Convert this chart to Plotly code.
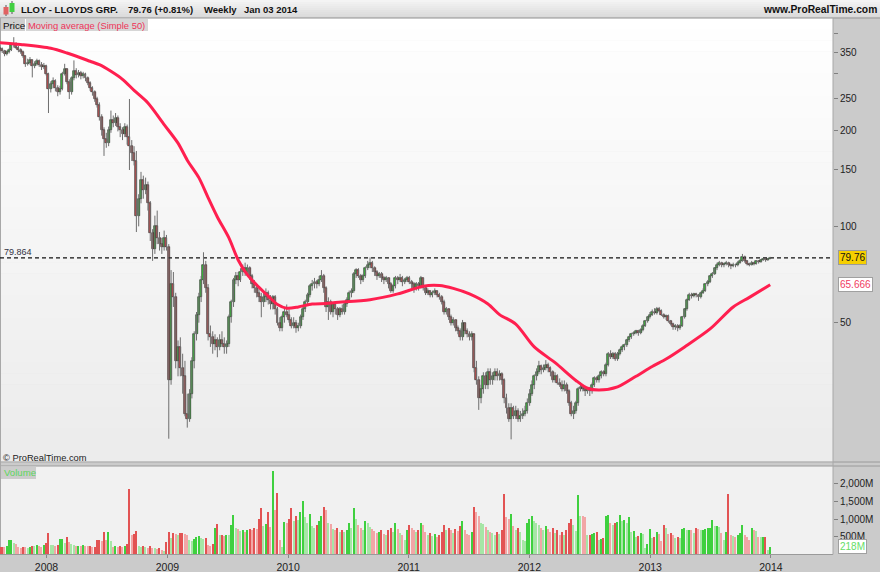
import numpy as np
import pandas as pd
import plotly.graph_objects as go

# ---------------- data (weekly bars, weeks beginning Monday) ----------------
first_week = "2007-08-13"
# [open, high, low, close] in pence
ohlc_2007 = [
    [362,368,352,358],[358,362,348,352],[352,356,340,345],[345,354,342,350],[350,360,347,356],
    [356,372,353,368],[368,390,362,372],[372,376,358,362],[362,366,350,355],[355,360,346,350],
    [350,354,336,340],[340,342,315,322],[322,334,318,325],[325,338,320,330],[330,332,292,318],
    [318,328,312,322],[322,334,318,328],[328,332,315,320],[320,326,308,315],[315,324,310,318]]
ohlc_2008 = [
    [318,320,296,300],[300,302,226,268],[268,284,262,278],[278,292,270,285],[285,288,264,270],
    [270,276,255,262],[262,275,258,268],[268,304,266,300],[300,322,296,310],[310,312,278,282],
    [282,288,250,262],[262,294,258,290],[290,330,286,305],[305,312,290,298],[298,308,292,302],
    [302,306,288,296],[296,304,290,300],[300,302,284,290],[290,294,276,280],[280,284,265,270],
    [270,274,256,262],[262,266,245,250],[250,254,235,240],[240,244,214,220],[220,224,192,200],
    [200,204,166,188],[188,196,176,182],[182,205,178,200],[200,230,196,215],[215,222,204,210],
    [210,226,206,218],[218,222,198,205],[205,210,190,200],[200,204,186,195],[195,210,190,205],
    [205,208,180,190],[190,250,150,178],[178,186,160,170],[170,178,155,160],[160,172,96,108],
    [108,126,100,122],[122,148,118,140],[140,144,122,130],[130,142,126,135],[135,138,112,118],
    [118,120,90,95],[95,98,78,85],[85,108,82,100],[100,112,88,92],[92,96,84,88],
    [88,92,82,86],[86,97,84,92]]
ohlc_2009 = [
    [92,94,84,86],[86,88,21.7,33],[33,73,32,66],[66,72,56,60],[60,62,36,38],
    [38,44,34,42],[42,45,34,36],[36,40,30,34],[34,38,25.5,26],[26,30,23.5,25],
    [25,31,24.5,30],[30,39,29,38],[38,47,36,46],[46,54,44,53],[53,62,50,60],
    [60,70,58,68],[68,83,66,76],[76,78,62,64],[64,66,44,46],[46,49,42,45],
    [45,47,40,43],[43,46,41,44],[44,45,39,42],[42,46,41,44],[44,47,42,43],
    [43,45,40,42],[42,44,40,43],[43,53,42,52],[52,59,50,58],[58,69,56,68],
    [68,72,66,70],[70,72,65,68],[68,74,67,72],[72,76,70,74],[74,77,70,72],
    [72,76,70,74],[74,75,68,70],[70,71,64,66],[66,68,62,64],[64,66,60,62],
    [62,64,58,60],[60,62,52,58],[58,62,56,60],[60,64,58,62],[62,63,57,59],
    [59,61,55,57],[57,61,55,60],[60,61,53,55],[55,56,49,50],[50,52,47,48],
    [48,53,47,52],[52,56,50,54]]
ohlc_2010 = [
    [54,57,52,53],[53,55,50,51],[51,52,48,49],[49,52,48,50],[50,51,46.5,48],
    [48,50,47,49],[49,53,48,52],[52,56,51,55],[55,59,54,58],[58,62,57,61],
    [61,66,60,65],[65,68,63,66],[66,69,64,67],[67,68,64,66],[66,70,65,68],
    [68,73,67,70],[70,71,62,64],[64,65,54,56],[56,60,51,58],[58,59,53,54],
    [54,58,52,57],[57,58,53,55],[55,56,51,53],[53,56,52,55],[55,57,53,54],
    [54,58,53,57],[57,60,56,59],[59,63,58,62],[62,64,60,63],[63,72,62,71],
    [71,74,69,73],[73,74,69,70],[70,71,66,68],[68,71,67,70],[70,75,69,74],
    [74,78,73,76],[76,80,74,77],[77,78,72,74],[74,75,70,72],[72,73,68,70],
    [70,72,69,71],[71,72,67,69],[69,70,66,68],[68,70,67,69],[69,69,64,66],
    [66,67,62,63],[63,66,62,65],[65,70,64,69],[69,70,66,68],[68,71,67,69],
    [69,70,65,67],[67,69,66,68]]
ohlc_2011 = [
    [68,70,67,69],[69,70,66,67],[67,68,64,66],[66,67,62,64],[64,67,63,66],
    [66,67,63,65],[65,70,64,69],[69,69,63,64],[64,65,61,62],[62,64,61,63],
    [63,63,60,61],[61,63,60,62],[62,64,61,63],[63,63,60,61],[61,62,59,60],
    [60,61,57,58],[58,59,53,54],[54,56,53,55],[55,55,51,52],[52,53,49,50],
    [50,52,49,51],[51,51,47,48],[48,49,46,47],[47,48,44,45],[45,51,44,50],
    [50,50,46,47],[47,48,45,46],[46,47,44,45],[45,47,44,46],[46,46,35,36],
    [36,38,32,33],[33,34,26.7,29],[29,32,28,31],[31,35,30,34],[34,35,31,32],
    [32,36,31,35],[35,36,32,33],[33,35,32,34],[34,36,33,35],[35,36,33,34],
    [34,35.5,33,34.5],[34.5,35,32,33],[33,33.5,28,29],[29,30,26,27],[27,28,24.5,25],
    [25,28,21.6,27],[27,27.5,25,25.5],[25.5,27.5,25,26.5],[26.5,27,24.5,25],[25,26.5,24.5,25.5],
    [25.5,27,25,26],[26,27.5,25.5,26.5]]
ohlc_2012 = [
    [26.5,29,26,28],[28,31,27.5,30],[30,33,29.5,32],[32,34.5,31,34],[34,36,33,35],
    [35,38,34.5,36.5],[36.5,37,34.5,35.5],[35.5,37,35,36],[36,38.2,35.5,37],[37,37.5,35,36],
    [36,36.5,34,35],[35,35.5,32.5,33],[33,35,32.5,34],[34,34.5,32,32.5],[32.5,33.5,31.5,32],
    [32,33,30.5,31],[31,33,30.5,32],[32,32.5,30,30.5],[30.5,31,27.5,28],[28,28.5,25.5,26],
    [26,27.5,25,26.5],[26.5,28.5,26,28],[28,31.5,27.5,31],[31,32.5,30.5,31.5],[31.5,32,30.5,31],
    [31,31.5,29.5,30.5],[30.5,31.5,30,31],[31,31.5,29.5,30.5],[30.5,32.5,30,32],[32,34,31.5,33.5],
    [33.5,34,32.5,33],[33,34.5,32.5,34],[34,35.5,33.5,35],[35,35.5,34,34.5],[34.5,37.5,34,37],
    [37,40.5,36.5,40],[40,41,38.5,39],[39,40.5,38.5,40],[40,40.5,38,38.5],[38.5,40.5,38,40],
    [40,41.5,39.5,41],[41,42.5,40.5,42],[42,43,41,42.5],[42.5,44.5,42,44],[44,45.5,43.5,45],
    [45,46.5,44.5,46],[46,47,45.5,46.5],[46.5,47.5,46,47],[47,47.5,45.5,46.5],[46.5,48,46,47.5],
    [47.5,49.5,47,49],[49,51,48.5,50.5],[50.5,52.5,50,52]]
ohlc_2013 = [
    [52,54,51.5,53],[53,55,52.5,54],[54,55.5,53,53.5],[53.5,56,53,55],[55,56,54,54.5],
    [54.5,55,52.5,53],[53,53.5,51.5,52],[52,53,51,52.5],[52.5,53,50,50.5],[50.5,51,49,49.5],
    [49.5,50,47.5,48.5],[48.5,49.5,47.5,49],[49,49.5,47,48],[48,49.5,47.5,49],[49,52.5,48.5,52],
    [52,55.5,51.5,55],[55,59.5,54.5,59],[59,62,58.5,61],[61,62,59.5,60.5],[60.5,62,60,61.5],
    [61.5,62,60,61],[61,61.5,58.5,60],[60,62.5,59.5,62],[62,64,61.5,63],[63,66.5,62.5,66],
    [66,68,65,67],[67,70.5,66.5,70],[70,72,69,71],[71,74.5,70.5,74],[74,77,73,76],
    [76,78,75,77],[77,77.5,74.5,75.5],[75.5,77,74.5,76.5],[76.5,78,75.5,77],[77,77.5,74.5,76],
    [76,76.5,73.5,75],[75,77,74.5,76],[76,76.5,74.5,75.5],[75.5,78,75,77],[77,79,76.5,78],
    [78,82,77.5,80.5],[80.5,81,77,78],[78,78.5,75.5,76.5],[76.5,77,75,76],[76,78,75.5,77],
    [77,77.5,75.5,76.5],[76.5,78.5,76,78],[78,78.5,76.5,77.5],[77.5,79,77,78.5],[78.5,79.5,78,79],
    [79,79.5,77.5,78.5],[78.5,79.5,78,79.1],[79.1,80.3,79,79.76]]

# weekly volume, millions of shares
vol_2007 = [200,220,210,230,400,410,330,300,200,180,220,200,190,210,250,230,270,240,220,260]
vol_2008 = [330,600,280,260,250,270,430,440,320,480,350,290,260,240,250,230,270,250,230,240,
            210,220,400,420,380,620,420,640,380,220,240,200,230,210,230,300,1840,560,570,660,
            250,220,230,200,190,230,180,170,160,180,120,110]
vol_2009 = [350,620,450,600,580,560,600,610,590,560,420,380,430,500,520,470,440,450,260,230,
            300,760,850,540,560,520,560,540,830,1110,760,720,660,700,640,680,730,700,760,720,
            1000,1300,800,850,1200,780,2360,1250,1730,400,220,920]
vol_2010 = [880,1000,1300,950,1100,980,1200,1500,1050,900,1150,800,760,820,950,1100,
            1350,1250,900,850,720,680,760,640,700,620,680,900,760,1300,1000,820,760,700,950,880,
            780,720,650,600,640,700,580,560,680,760,640,900,720,600,560,400]
vol_2011 = [700,820,760,680,640,700,900,820,640,560,600,520,580,500,560,620,820,700,760,680,
            600,720,660,800,950,700,580,540,620,1350,1200,1100,900,850,780,700,640,600,560,620,
            580,700,1720,1050,1000,1150,800,700,760,640,420,380]
vol_2012 = [900,1000,1100,950,880,820,760,700,800,720,640,760,600,680,560,620,540,700,900,1000,
            820,650,1680,1100,1080,1060,550,560,580,600,620,420,430,450,1100,1120,900,830,880,920,
            1110,950,980,900,1050,640,660,500,520,600,590,170,290]
vol_2013 = [720,450,480,640,570,380,830,740,580,600,560,470,480,460,720,760,700,700,680,600,
            740,720,700,700,720,760,760,970,800,800,780,600,400,620,1720,550,520,500,560,610,
            830,550,480,420,760,700,650,500,480,500,500,120,218]

# 50-week simple moving average (week number, value)
ma_week = [0,9,22,29,39,43,48,53,58,64,71,77,81,86,90,94,99,103,107,112,116,120,124,129,135,
           141,145,160,172,183,190,196,203,211,216,223,231,240,249,254,259,267,275,282,288,296,
           307,317,324,333]
ma_value = [375,370,360,348,328,320,305,288,266,243,208,182,161,142,123,107,92,78.5,70.5,64.5,
            60.5,57,55.5,56,57.2,57.4,57.8,59,61.5,65,65.3,64,61.5,57.2,53,49.5,42,37.5,33,31.2,
            30.8,31.5,34,36.5,38.5,42,47.8,56,60,65.666]

year_ticks = ["2008-01-01","2009-01-01","2010-01-01","2011-01-01","2012-01-01","2013-01-01","2014-01-01"]
year_labels = ["2008","2009","2010","2011","2012","2013","2014"]
price_ticks = [50,100,150,200,250,300,350,400]
price_tick_text = ["50","100","150","200","250","","350",""]
vol_ticks = [500,1000,1500,2000]
vol_tick_text = ["500M","1,000M","1,500M","2,000M"]
last_close = 79.76
last_ma = 65.666
last_vol = 218

# ---------------- build ----------------
ohlc = ohlc_2007 + ohlc_2008 + ohlc_2009 + ohlc_2010 + ohlc_2011 + ohlc_2012 + ohlc_2013
vol = vol_2007 + vol_2008 + vol_2009 + vol_2010 + vol_2011 + vol_2012 + vol_2013
dates = pd.date_range(first_week, periods=len(ohlc), freq="7D")
o = np.array([r[0] for r in ohlc], float); h = np.array([r[1] for r in ohlc], float)
l = np.array([r[2] for r in ohlc], float); c = np.array([r[3] for r in ohlc], float)
up = c >= o

W, H = 880, 572
PR = 833  # right edge of plotting area (px)
def fx(px): return px / W
def fy(py): return 1 - py / H

jan08 = pd.Timestamp("2008-01-01")
px_per_year = 120.7
x_start = jan08 - pd.Timedelta(days=46.5 / px_per_year * 365.25)
x_end = jan08 + pd.Timedelta(days=(PR - 46.5) / px_per_year * 365.25)

FONT = "Arial, Liberation Sans, sans-serif"
DAY = 86400000

vcolors = []
for i in range(len(vol)):
    rising = i == 0 or vol[i] >= vol[i - 1]
    if up[i]:
        vcolors.append("#3fd03f" if rising else "#a6e6a6")
    else:
        vcolors.append("#e25353" if rising else "#f2a6a6")

fig = go.Figure()
fig.add_trace(go.Scatter(x=[x_start, x_end], y=[last_close, last_close], mode="lines",
                         line=dict(color="#111111", width=1.3, dash="4px,3px"),
                         xaxis="x", yaxis="y", hoverinfo="skip"))
# wicks (high-low)
wx, wy = [], []
for d, lo, hi in zip(dates, l, h):
    wx += [d, d, None]; wy += [lo, hi, None]
fig.add_trace(go.Scatter(x=wx, y=wy, mode="lines", line=dict(color="#6e6e6e", width=1),
                         xaxis="x", yaxis="y", hoverinfo="skip"))
# bodies (open-close)
body_lo = np.minimum(o, c)
body_len = np.maximum(np.abs(c - o), body_lo * 0.006)
for mask, col in ((up, "#3cc23c"), (~up, "#c05454")):
    fig.add_trace(go.Bar(x=dates[mask], y=body_len[mask], base=body_lo[mask], width=6 * DAY,
                         marker=dict(color=col, line=dict(color="#1a1a1a", width=0.6)),
                         xaxis="x", yaxis="y", hoverinfo="skip"))
fig.add_trace(go.Scatter(x=dates[ma_week], y=ma_value, mode="lines",
                         line=dict(color="#ff1f4f", width=3, shape="spline", smoothing=0.8),
                         xaxis="x", yaxis="y", hoverinfo="skip"))
fig.add_trace(go.Bar(x=dates, y=vol, marker=dict(color=vcolors, line=dict(width=0)),
                     width=4 * DAY, xaxis="x2", yaxis="y2", hoverinfo="skip"))

shapes = []
def rect(x0, y0, x1, y1, color):
    shapes.append(dict(type="rect", xref="paper", yref="paper", x0=fx(x0), x1=fx(x1),
                       y0=fy(y1), y1=fy(y0), fillcolor=color, line=dict(width=0), layer="below"))
def line(x0, y0, x1, y1, color, width=1):
    shapes.append(dict(type="line", xref="paper", yref="paper", x0=fx(x0), x1=fx(x1),
                       y0=fy(y0), y1=fy(y1), line=dict(color=color, width=width), layer="below"))

# header gradient
nb = 9
for k in range(nb):
    v = int(244 - (244 - 218) * k / (nb - 1))
    rect(0, 18 * k / nb, W, 18 * (k + 1) / nb + 0.5, f"rgb({v},{v},{v})")
# price panel gradient
nb = 40
for k in range(nb):
    v = int(255 - (255 - 236) * k / (nb - 1))
    rect(0, 18 + 444 * k / nb, PR, 18 + 444 * (k + 1) / nb + 0.5, f"rgb({v},{v},{v})")
rect(0, 466, PR, 554, "#f1f1f1")
line(0, 18, W, 18, "#8f8f8f")
line(0, 462, W, 462, "#9a9a9a")
line(0, 466, W, 466, "#9a9a9a")
line(0, 554.5, PR, 554.5, "#9a9a9a")
line(PR, 18, PR, 554.5, "#a8a8a8")
line(0.5, 18, 0.5, 554, "#a8a8a8")
# small logo
line(6, 5, 6, 16, "#555555")
rect(3.5, 7, 8.5, 14.5, "#e06262")
line(12, 1, 12, 14, "#555555")
rect(9.5, 3, 14.5, 12, "#42cf42")
# legend boxes
rect(1, 19, 25, 31, "#cfcfcf")
rect(26, 19, 148, 31, "#d6d6d6")
rect(1, 466.5, 36, 479, "#cccccc")

ann = []
def text(x, y, s, size=10, color="#111111", xanchor="left", bold=False):
    ann.append(dict(x=fx(x), y=fy(y), xref="paper", yref="paper", text=f"<b>{s}</b>" if bold else s,
                    showarrow=False, xanchor=xanchor, yanchor="middle", borderpad=0,
                    font=dict(family=FONT, size=size, color=color)))
text(19.5, 9.5, "LLOY - LLOYDS GRP.", 9.5, bold=True)
text(126.5, 9.5, "79.76 (+0.81%)", 9.5, bold=True)
text(202.5, 9.5, "Weekly", 9.5, bold=True)
text(242.5, 9.5, "Jan 03 2014", 9.5, bold=True)
text(878, 9.5, "www.ProRealTime.com", 10.3, xanchor="right", bold=True)
text(2, 25.5, "Price", 9.8, "#111111")
text(27, 25.5, "Moving average (Simple 50)", 9.4, "#ee3358")
text(1.5, 457.5, "© ProRealTime.com", 9.3, "#222222")
text(2.5, 473, "Volume", 9.6, "#5cd65c")
ann.append(dict(x=fx(3), y=np.log10(last_close), xref="paper", yref="y", text="79.864",
                showarrow=False, xanchor="left", yanchor="bottom", borderpad=0,
                font=dict(family=FONT, size=9, color="#333344")))
ann.append(dict(x=fx(838), y=np.log10(last_close), xref="paper", yref="y", text="79.76",
                showarrow=False, xanchor="left", yanchor="middle", bgcolor="#f5cf00",
                bordercolor="#9a9a9a", borderwidth=1, borderpad=1,
                font=dict(family=FONT, size=10, color="#111111")))
ann.append(dict(x=fx(838), y=np.log10(last_ma), xref="paper", yref="y", text="65.666",
                showarrow=False, xanchor="left", yanchor="middle", bgcolor="#ffffff",
                bordercolor="#a0a0a0", borderwidth=1, borderpad=1,
                font=dict(family=FONT, size=10, color="#f03c62")))
ann.append(dict(x=fx(838), y=last_vol, xref="paper", yref="y2", text=f"{last_vol}M",
                showarrow=False, xanchor="left", yanchor="middle", bgcolor="#ffffff",
                bordercolor="#a0a0a0", borderwidth=1, borderpad=1,
                font=dict(family=FONT, size=10, color="#66dd66")))

axis_common = dict(showgrid=False, zeroline=False, showline=False)
fig.update_layout(
    width=W, height=H, margin=dict(l=0, r=0, t=0, b=0),
    paper_bgcolor="#cbcbcb", plot_bgcolor="rgba(0,0,0,0)",
    showlegend=False, hovermode=False, bargap=0, barmode="overlay",
    font=dict(family=FONT, size=10, color="#222222"),
    xaxis=dict(domain=[0, fx(PR)], range=[x_start, x_end], anchor="y", type="date",
               showticklabels=False, ticks="", rangeslider=dict(visible=False), **axis_common),
    xaxis2=dict(domain=[0, fx(PR)], range=[x_start, x_end], anchor="y2", type="date",
                tickvals=year_ticks, ticktext=year_labels, ticks="outside", ticklen=3,
                tickcolor="#888888", tickfont=dict(family=FONT, size=10.5, color="#222222"),
                **axis_common),
    yaxis=dict(domain=[fy(462), fy(18)], type="log", range=[1.2637, 2.651], side="right",
               anchor="x", tickvals=price_ticks, ticktext=price_tick_text, ticks="outside",
               ticklen=4, tickcolor="#808080", tickfont=dict(family=FONT, size=10, color="#222222"),
               **axis_common),
    yaxis2=dict(domain=[fy(554.4), fy(466)], range=[0, 2500], side="right", anchor="x2",
                tickvals=vol_ticks, ticktext=vol_tick_text, ticks="outside", ticklen=4,
                tickcolor="#808080", tickfont=dict(family=FONT, size=10, color="#222222"),
                **axis_common),
    shapes=shapes, annotations=ann,
)

fig.write_html("out.html", config={"displayModeBar": False},
               post_script="document.body.style.margin='0';document.body.style.padding='0';")
